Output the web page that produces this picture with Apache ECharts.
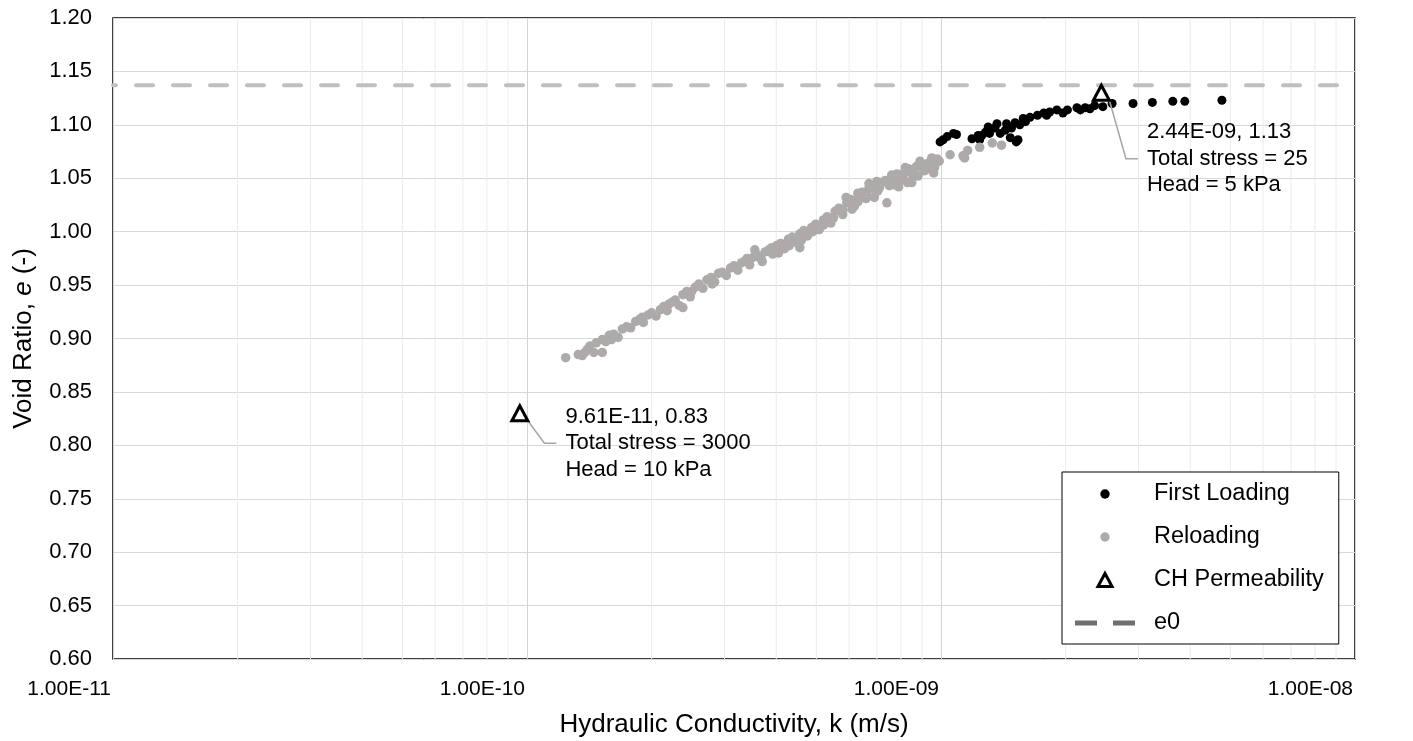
<!DOCTYPE html>
<html><head><meta charset="utf-8">
<script src="https://cdn.jsdelivr.net/npm/echarts@6/dist/echarts.min.js"></script>
<style>html,body{margin:0;padding:0;background:#fff}#c{width:1413px;height:741px}</style>
</head><body><div id="c"></div>
<script>
// ---- data ----
const firstLoading = [
  [9.95e-10,1.084],[1.012e-9,1.086],[1.035e-9,1.089],[1.072e-9,1.092],[1.09e-9,1.091],
  [1.188e-9,1.087],[1.23e-9,1.090],[1.24e-9,1.086],[1.255e-9,1.090],[1.28e-9,1.093],
  [1.30e-9,1.098],[1.31e-9,1.092],[1.35e-9,1.097],[1.365e-9,1.101],[1.39e-9,1.092],
  [1.43e-9,1.095],[1.44e-9,1.101],[1.47e-9,1.088],[1.48e-9,1.097],[1.51e-9,1.102],
  [1.52e-9,1.084],[1.535e-9,1.086],[1.55e-9,1.100],[1.58e-9,1.106],[1.60e-9,1.103],
  [1.64e-9,1.107],[1.71e-9,1.109],[1.77e-9,1.111],[1.80e-9,1.109],[1.83e-9,1.112],
  [1.905e-9,1.114],[1.97e-9,1.111],[2.02e-9,1.114],[2.13e-9,1.116],[2.17e-9,1.114],
  [2.23e-9,1.116],[2.29e-9,1.115],[2.35e-9,1.118],[2.46e-9,1.117],[2.59e-9,1.120],
  [2.91e-9,1.120],[3.24e-9,1.121],[3.63e-9,1.122],[3.88e-9,1.122],[4.77e-9,1.123]
];
const reloading = [
  [1.24e-10,0.882],[1.33e-10,0.885],[1.36e-10,0.884],[1.38e-10,0.887],[1.40e-10,0.890],
  [1.42e-10,0.893],[1.45e-10,0.887],[1.47e-10,0.896],[1.52e-10,0.899],[1.52e-10,0.887],
  [1.55e-10,0.897],[1.58e-10,0.903],[1.60e-10,0.899],[1.62e-10,0.904],[1.66e-10,0.901],
  [1.70e-10,0.909],[1.74e-10,0.911],[1.78e-10,0.910],[1.83e-10,0.916],[1.87e-10,0.918],
  [1.90e-10,0.920],[1.91e-10,0.915],[1.96e-10,0.922],[2.00e-10,0.924],[2.05e-10,0.921],
  [2.10e-10,0.927],[2.14e-10,0.930],[2.18e-10,0.926],[2.20e-10,0.932],[2.24e-10,0.934],
  [2.28e-10,0.936],[2.33e-10,0.931],[2.38e-10,0.929],[2.38e-10,0.941],[2.43e-10,0.944],
  [2.48e-10,0.939],[2.50e-10,0.944],[2.55e-10,0.948],[2.60e-10,0.951],[2.66e-10,0.947],
  [2.72e-10,0.955],[2.78e-10,0.957],[2.80e-10,0.951],[2.84e-10,0.953],[2.90e-10,0.961],
  [2.96e-10,0.962],[3.03e-10,0.959],[3.10e-10,0.966],[3.16e-10,0.968],[3.23e-10,0.964],
  [3.30e-10,0.971],[3.37e-10,0.973],[3.40e-10,0.975],[3.45e-10,0.969],[3.52e-10,0.976],
  [3.55e-10,0.983],[3.60e-10,0.978],[3.68e-10,0.974],[3.70e-10,0.972],[3.76e-10,0.981],
  [3.84e-10,0.983],[3.90e-10,0.985],[3.92e-10,0.979],[4.01e-10,0.987],[4.05e-10,0.980],
  [4.10e-10,0.989],[4.19e-10,0.984],[4.28e-10,0.993],[4.30e-10,0.987],[4.37e-10,0.995],
  [4.47e-10,0.990],[4.56e-10,0.998],[4.56e-10,0.985],[4.60e-10,0.992],[4.66e-10,1.001],
  [4.76e-10,0.996],[4.87e-10,1.004],[4.90e-10,1.000],[4.98e-10,1.007],[5.08e-10,1.002],
  [5.20e-10,1.011],[5.20e-10,1.006],[5.31e-10,1.014],[5.42e-10,1.008],[5.50e-10,1.013],
  [5.55e-10,1.019],[5.67e-10,1.022],[5.79e-10,1.016],[5.80e-10,1.020],[5.90e-10,1.032],
  [5.92e-10,1.027],[6.05e-10,1.030],[6.10e-10,1.021],[6.18e-10,1.024],[6.30e-10,1.028],
  [6.30e-10,1.036],[6.32e-10,1.034],[6.45e-10,1.037],[6.50e-10,1.032],[6.59e-10,1.031],
  [6.60e-10,1.035],[6.70e-10,1.041],[6.70e-10,1.045],[6.74e-10,1.040],[6.88e-10,1.043],
  [6.90e-10,1.032],[7.00e-10,1.047],[7.03e-10,1.038],[7.10e-10,1.041],[7.18e-10,1.046],
  [7.34e-10,1.048],[7.40e-10,1.027],[7.50e-10,1.043],[7.60e-10,1.053],[7.66e-10,1.051],
  [7.70e-10,1.044],[7.83e-10,1.054],[7.90e-10,1.042],[8.00e-10,1.048],[8.10e-10,1.050],
  [8.17e-10,1.056],[8.20e-10,1.060],[8.28e-10,1.057],[8.30e-10,1.046],[8.35e-10,1.059],
  [8.50e-10,1.046],[8.53e-10,1.053],[8.60e-10,1.055],[8.72e-10,1.061],[8.80e-10,1.052],
  [8.90e-10,1.063],[8.90e-10,1.066],[9.00e-10,1.060],[9.10e-10,1.057],[9.20e-10,1.058],
  [9.30e-10,1.064],[9.40e-10,1.062],[9.50e-10,1.066],[9.50e-10,1.069],[9.60e-10,1.055],
  [9.65e-10,1.060],[9.70e-10,1.064],[9.80e-10,1.068],[9.90e-10,1.066],
  [1.052e-9,1.072],[1.13e-9,1.071],[1.14e-9,1.069],[1.16e-9,1.076],[1.24e-9,1.079],
  [1.33e-9,1.083],[1.40e-9,1.081]
];
const chPermeability = [[9.61e-11,0.83],[2.44e-9,1.13]];
const chTotalStress = [3000, 25];
const chHeadKPa = [10, 5];
const e0Value = 1.137;
const e0Line = [[1e-11, e0Value],[1e-8, e0Value]];
const xMin = 1e-11, xMax = 1e-8;
const yMin = 0.6, yMax = 1.2, yStep = 0.05;
const minorGridValues = [
  2e-11,3e-11,4e-11,5e-11,6e-11,7e-11,8e-11,9e-11,
  2e-10,3e-10,4e-10,5e-10,6e-10,7e-10,8e-10,9e-10,
  2e-9,3e-9,4e-9,5e-9,6e-9,7e-9,8e-9,9e-9
];
const seriesNames = ['First Loading','Reloading','CH Permeability','e0'];

// ---- helpers ----
function sci(v){
  const s = Number(v).toExponential(2).split('e');
  const ex = parseInt(s[1],10);
  const sign = ex < 0 ? '-' : '+';
  const a = Math.abs(ex);
  return s[0] + 'E' + sign + (a < 10 ? '0' + a : '' + a);
}
// vertical minor grid segments, broken by '-' gaps, placed through the axes
const minorGridSegments = [];
minorGridValues.forEach(v => { minorGridSegments.push([v, yMin], [v, yMax], [v, '-']); });

const FONT = '"Liberation Sans", Arial, sans-serif';
const FS = 22;
const chart = echarts.init(document.getElementById('c'), null, {renderer:'canvas'});
const option = {
  animation: false,
  backgroundColor: '#fff',
  textStyle: {fontFamily: FONT, color:'#000'},
  grid: {left:113, top:18, right:58, bottom:82, containLabel:false, outerBoundsMode:'none',
         show:true, borderColor:'#000', borderWidth:1.5, backgroundColor:'transparent'},
  xAxis: {
    type:'log', logBase:10, min:xMin, max:xMax, splitNumber:3,
    name:'Hydraulic Conductivity, k (m/s)', nameLocation:'middle', nameGap:53,
    nameTextStyle:{fontSize:26, color:'#000', fontFamily:FONT},
    axisLine:{show:false}, axisTick:{show:false},
    axisLabel:{formatter:sci, fontSize:21, color:'#000', margin:20, fontFamily:FONT, align:'right', padding:[0,2,0,0]},
    splitLine:{show:true, lineStyle:{color:'#d4d4d4', width:1}}
  },
  yAxis: {
    type:'value', min:yMin, max:yMax, interval:yStep,
    name:'{a|Void Ratio, }{i|e}{a| (-)}', nameLocation:'middle', nameGap:76, nameRotate:90,
    nameTextStyle:{color:'#000', rich:{a:{fontSize:26, fontFamily:FONT, color:'#000'}, i:{fontSize:26, fontFamily:FONT, fontStyle:'italic', color:'#000'}}},
    axisLine:{show:false}, axisTick:{show:false},
    axisLabel:{formatter:v=>v.toFixed(2), fontSize:FS, color:'#000', margin:21, fontFamily:FONT},
    splitLine:{show:true, lineStyle:{color:'#d9d9d9', width:1}}
  },
  legend: {
    left:1062, top:472, orient:'vertical',
    backgroundColor:'#fff', borderColor:'#000', borderWidth:1,
    padding:[10,15,9,13], itemGap:19, itemWidth:60, itemHeight:13,
    symbolKeepAspect:true,
    textStyle:{fontSize:23.5, color:'#000', fontFamily:FONT, padding:[0,0,0,14]},
    data:[
      {name:seriesNames[0], icon:'path://M0,0M13,13M1.8,6.5a4.7,4.7 0 1,0 9.4,0a4.7,4.7 0 1,0 -9.4,0z', itemStyle:{color:'#000', opacity:1}},
      {name:seriesNames[1], icon:'path://M0,0M13,13M1.8,6.5a4.7,4.7 0 1,0 9.4,0a4.7,4.7 0 1,0 -9.4,0z', itemStyle:{color:'#aeaaaa', opacity:1}},
      {name:seriesNames[2], icon:'path://M6.5,0.5L13,12.5L0,12.5Z', itemStyle:{color:'#fff', borderColor:'#000', borderWidth:3, opacity:1}},
      {name:seriesNames[3], icon:'path://M0,0h22v5h-22z M38,0h22v5h-22z', itemStyle:{color:'#6f6f6f', borderWidth:0, opacity:1}}
    ]
  },
  series: [
    {
      type:'line', data:minorGridSegments, silent:true, z:1, symbol:'none', showSymbol:false,
      connectNulls:false, legendHoverLink:false,
      lineStyle:{color:'#ebebeb', width:1}, emphasis:{disabled:true}
    },
    {
      name:seriesNames[3], type:'line', data:e0Line, symbol:'none', silent:true, z:2,
      itemStyle:{color:'#6f6f6f'},
      lineStyle:{color:'#bfbfbf', width:4, type:[17,20], cap:'round', dashOffset:14}
    },
    {
      name:seriesNames[0], type:'scatter', data:firstLoading, symbol:'circle', symbolSize:9, z:3,
      itemStyle:{color:'#000', opacity:1}
    },
    {
      name:seriesNames[1], type:'scatter', data:reloading, symbol:'circle', symbolSize:9.5, z:3,
      itemStyle:{color:'#aeaaaa', opacity:1}
    },
    {
      name:seriesNames[2], type:'scatter', data:chPermeability, symbol:'triangle', symbolSize:[16,15], z:5,
      symbolKeepAspect:true,
      itemStyle:{color:'#fff', borderColor:'#000', borderWidth:3, opacity:1},
      label:{
        show:true, position:'right', distance:5, align:'left',
        fontSize:FS, lineHeight:26.5, color:'#000', fontFamily:FONT, padding:[0,0,0,9],
        formatter: p => sci(p.value[0]) + ', ' + p.value[1].toFixed(2) +
          '\nTotal stress = ' + chTotalStress[p.dataIndex] +
          '\nHead = ' + chHeadKPa[p.dataIndex] + ' kPa'
      },
      labelLine:{show:true, length2:12, lineStyle:{color:'#a6a6a6', width:1.5}},
      labelLayout: p => ({dx:22, dy: p.dataIndex === 0 ? 30 : 66})
    }
  ]
};
chart.setOption(option);
</script>
</body></html>
